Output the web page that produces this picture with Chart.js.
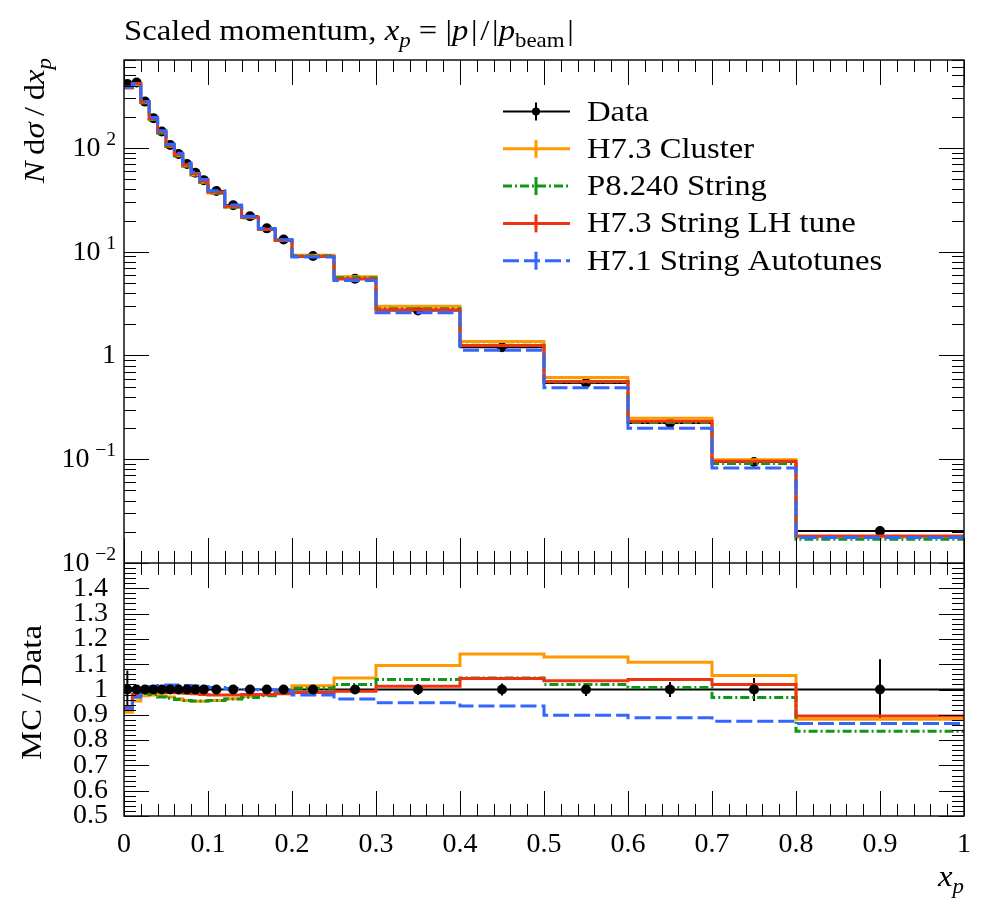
<!DOCTYPE html>
<html lang="en">
<head>
<meta charset="UTF-8">
<title>Scaled momentum x_p</title>
<script src="https://cdn.jsdelivr.net/npm/chart.js"></script>
<style>
  html, body { margin: 0; padding: 0; background: #fff; }
  #xpChart { display: block; width: 996px; height: 900px; }
</style>
</head>
<body>
<canvas id="xpChart" width="996" height="900"></canvas>
<script>
// histogram binning in x_p
const binEdges = [0, 0.01, 0.02, 0.03, 0.04, 0.05, 0.06, 0.07, 0.08, 0.09, 0.1,
                  0.12, 0.14, 0.16, 0.18, 0.2, 0.25, 0.3, 0.4, 0.5, 0.6, 0.7, 0.8, 1.0];

// measured data, N dsigma/dx_p
const dataX = [0.004, 0.015, 0.025, 0.035, 0.045, 0.055, 0.065, 0.075, 0.085, 0.095,
               0.11, 0.13, 0.15, 0.17, 0.19, 0.225, 0.275, 0.35, 0.45, 0.55, 0.65, 0.75, 0.9];
const dataY = [415, 428, 280, 194, 144, 107, 87.5, 70, 57.7, 49,
               38.5, 28.1, 22, 16.8, 13.1, 9.1, 5.5, 2.72, 1.2, 0.543, 0.224, 0.094, 0.0203];
const dataRelErr = [0.075, 0.01, 0.008, 0.008, 0.008, 0.008, 0.008, 0.008, 0.008, 0.008,
                    0.008, 0.008, 0.008, 0.008, 0.008, 0.01, 0.012, 0.022, 0.024, 0.026, 0.03, 0.045, 0.12];

// MC / Data ratios per bin
const clusterRatio = [0.91, 0.955, 0.975, 0.978, 0.975, 0.97, 0.963, 0.957, 0.954, 0.954,
                      0.957, 0.963, 0.972, 0.978, 0.985, 1.015, 1.045, 1.095, 1.14, 1.128, 1.108, 1.055, 0.882];
const p8StringRatio = [0.93, 0.97, 0.985, 0.98, 0.97, 0.965, 0.96, 0.957, 0.955, 0.955,
                       0.957, 0.962, 0.968, 0.975, 0.985, 1.005, 1.02, 1.04, 1.045, 1.02, 1.008, 0.968, 0.835];
const lhTuneRatio = [0.93, 0.98, 0.99, 0.992, 0.99, 0.988, 0.987, 0.985, 0.983, 0.98,
                     0.978, 0.978, 0.98, 0.98, 0.983, 0.988, 0.993, 1.013, 1.043, 1.035, 1.04, 1.02, 0.895];
const autotuneRatio = [0.925, 0.97, 1.005, 1.012, 1.016, 1.018, 1.018, 1.016, 1.014, 1.012,
                       1.008, 1.004, 1.0, 0.998, 0.995, 0.978, 0.962, 0.948, 0.935, 0.898, 0.888, 0.875, 0.866];

const seriesNames = ['Data', 'H7.3 Cluster', 'P8.240 String', 'H7.3 String LH tune', 'H7.1 String Autotunes'];

// axis ticks
const xTicks = [0, 0.1, 0.2, 0.3, 0.4, 0.5, 0.6, 0.7, 0.8, 0.9, 1];
const logTicks = [100, 10, 1, 0.1, 0.01];
const logTickExp = ['2', '1', null, '\u22121', '\u22122'];
const ratioTicks = [0.5, 0.6, 0.7, 0.8, 0.9, 1, 1.1, 1.2, 1.3, 1.4];

const FONT = '"Liberation Serif", "DejaVu Serif", serif';
const FS = 28;    // tick labels
const LFS = 30;   // titles and legend
const WIDE = 1.09; // Times is narrower than the original book face

// styles (order matches seriesNames[1..])
const mcColors = ['#FF9900', '#109618', '#EE3311', '#3366FF'];
const mcDash = [[], [9, 3, 2, 3], [], [16, 5]];
const mcRatios = [clusterRatio, p8StringRatio, lhTuneRatio, autotuneRatio];

function stepPoints(vals) {
  const pts = vals.map((v, i) => ({ x: binEdges[i], y: v }));
  pts.push({ x: binEdges[binEdges.length - 1], y: vals[vals.length - 1] });
  return pts;
}

function fmtTick(v) {
  const r = Math.round(v * 10) / 10;
  if (r === 0) return '0';
  if (r === 1) return '1';
  return r.toFixed(1);
}

const datasets = [];
// data points, main panel (drawn underneath the MC)
datasets.push({
  label: 'Data', yAxisID: 'y', order: 10,
  data: dataX.map((x, i) => ({ x: x, y: dataY[i] })),
  showLine: false, pointRadius: 5, pointBackgroundColor: '#000', pointBorderWidth: 0
});
// data points, ratio panel (on top)
datasets.push({
  label: 'Data ratio', yAxisID: 'yRatio', order: 0,
  data: dataX.map((x, i) => ({ x: x, y: dataY[i] / dataY[i] })),
  showLine: false, pointRadius: 5, pointBackgroundColor: '#000', pointBorderWidth: 0
});
mcRatios.forEach((ratio, k) => {
  const common = {
    showLine: true, stepped: 'before', pointRadius: 0, fill: false,
    borderColor: mcColors[k], borderWidth: 3, borderDash: mcDash[k],
    order: 4 - k
  };
  datasets.push(Object.assign({
    label: seriesNames[k + 1], yAxisID: 'y',
    data: stepPoints(ratio.map((r, i) => r * dataY[i]))
  }, common));
  datasets.push(Object.assign({
    label: seriesNames[k + 1] + ' ratio', yAxisID: 'yRatio',
    data: stepPoints(ratio)
  }, common));
});

function line(c, x0, y0, x1, y1) {
  c.beginPath(); c.moveTo(x0, y0); c.lineTo(x1, y1); c.stroke();
}

// text with italic / sub / superscript pieces: [text, style]
// style: r roman, i italic, rs roman sub, is italic sub, rp roman sup
function richWidth(c, parts, size, sx) {
  let w = 0;
  for (const [t, s] of parts) {
    const small = s.length > 1;
    c.font = (s[0] === 'i' ? 'italic ' : '') + (small ? size * 0.7 : size) + 'px ' + FONT;
    w += c.measureText(t).width;
  }
  return w * (sx || 1);
}
function drawRich(c, parts, x, y, size, sx) {
  c.save();
  c.translate(x, y);
  c.scale(sx || 1, 1);
  let cx = 0;
  for (const [t, s] of parts) {
    const small = s.length > 1;
    let dy = 0;
    if (s[1] === 's') dy = size * 0.22;
    if (s[1] === 'p') dy = -size * 0.4;
    c.font = (s[0] === 'i' ? 'italic ' : '') + (small ? size * 0.7 : size) + 'px ' + FONT;
    c.fillText(t, cx, dy);
    cx += c.measureText(t).width;
  }
  c.restore();
}

const decor = {
  id: 'decor',
  beforeDatasetsDraw(chart) {
    const c = chart.ctx, a = chart.chartArea;
    const xs = chart.scales.x, ys = chart.scales.y, rs = chart.scales.yRatio;
    c.save();
    c.beginPath(); c.rect(a.left, a.top, a.right - a.left, a.bottom - a.top); c.clip();
    c.strokeStyle = '#000'; c.lineWidth = 2;
    dataY.forEach((v, i) => {
      const x0 = xs.getPixelForValue(binEdges[i]);
      const x1 = xs.getPixelForValue(binEdges[i + 1]);
      const xc = xs.getPixelForValue(dataX[i]);
      let py = ys.getPixelForValue(v);
      line(c, x0, py, x1, py);
      line(c, xc, ys.getPixelForValue(v * (1 + dataRelErr[i])), xc, ys.getPixelForValue(v * (1 - dataRelErr[i])));
      py = rs.getPixelForValue(1);
      line(c, x0, py, x1, py);
      line(c, xc, rs.getPixelForValue(1 + dataRelErr[i]), xc, rs.getPixelForValue(1 - dataRelErr[i]));
    });
    c.restore();
  },
  afterDraw(chart) {
    const c = chart.ctx;
    const xs = chart.scales.x, ys = chart.scales.y, rs = chart.scales.yRatio;
    const L = xs.left, R = xs.right, T = ys.top, M = ys.bottom, B = rs.bottom;
    c.save();
    // ticks
    c.strokeStyle = '#000'; c.lineWidth = 1;
    for (let k = 0; k <= 50; k++) {
      const px = Math.round(xs.getPixelForValue(k / 50)) + 0.5;
      const len = k % 5 === 0 ? 25 : 12;
      line(c, px, T, px, T + len);
      line(c, px, M, px, M - len);
      line(c, px, M, px, M + len);
      line(c, px, B, px, B - len);
    }
    for (let e = -2; e <= 2; e++) {
      for (let m = 1; m <= 9; m++) {
        const v = m * Math.pow(10, e);
        if (v > ys.max) continue;
        const py = Math.round(ys.getPixelForValue(v)) + 0.5;
        const len = m === 1 ? 25 : 12;
        line(c, L, py, L + len, py);
        line(c, R, py, R - len, py);
      }
    }
    for (let k = 0; k <= 50; k++) {
      const v = 0.5 + k * 0.02;
      const py = Math.round(rs.getPixelForValue(v)) + 0.5;
      const len = k % 5 === 0 ? 25 : 12;
      line(c, L, py, L + len, py);
      line(c, R, py, R - len, py);
    }
    // frame
    c.strokeStyle = '#111'; c.lineWidth = 1.5;
    c.strokeRect(L, T, R - L, B - T);
    line(c, L, M, R, M);

    // log tick labels
    c.fillStyle = '#000';
    c.textBaseline = 'alphabetic';
    logTicks.forEach((v, i) => {
      const py = ys.getPixelForValue(v) + 8;
      const parts = logTickExp[i] ? [['10', 'r'], ['\u2009', 'r'], [logTickExp[i], 'rp']] : [['1', 'r']];
      const w = richWidth(c, parts, FS);
      drawRich(c, parts, L - 8 - w, py, FS);
    });

    // title
    drawRich(c, [['Scaled momentum, ', 'r'], ['x', 'i'], ['p', 'is'], [' = |', 'r'], ['p', 'i'],
                 ['\u200a|\u200a/\u200a|', 'r'], ['p', 'i'], ['beam', 'rs'], ['\u200a|', 'r']], L, 40, LFS, WIDE);

    // x axis label
    const xl = [['x', 'i'], ['p', 'is']];
    drawRich(c, xl, R - richWidth(c, xl, LFS, WIDE), 886, LFS, WIDE);

    // y axis labels (rotated)
    const yl = [['N', 'i'], ['\u2009d', 'r'], ['\u03c3', 'i'], ['\u2009/\u2009d', 'r'], ['x', 'i'], ['p', 'is']];
    const yw = richWidth(c, yl, LFS, WIDE);
    c.save();
    c.translate(44, T - 2 + yw);
    c.rotate(-Math.PI / 2);
    drawRich(c, yl, 0, 0, LFS, WIDE);
    c.restore();
    const rl = [['MC\u2009/\u2009Data', 'r']];
    const rw = richWidth(c, rl, LFS, WIDE);
    c.save();
    c.translate(41, (M + B) / 2 + 3 + rw / 2);
    c.rotate(-Math.PI / 2);
    drawRich(c, rl, 0, 0, LFS, WIDE);
    c.restore();

    // legend
    const lx0 = 503, lx1 = 570, lxc = 536, ltx = 587;
    seriesNames.forEach((name, i) => {
      const ly = 111.5 + i * 37.3;
      if (i === 0) {
        c.strokeStyle = '#000'; c.lineWidth = 2; c.setLineDash([]);
        line(c, lx0, ly, lx1, ly);
        line(c, lxc, ly - 9, lxc, ly + 9);
        c.fillStyle = '#000';
        c.beginPath(); c.arc(lxc, ly, 4, 0, Math.PI * 2); c.fill();
      } else {
        c.strokeStyle = mcColors[i - 1]; c.lineWidth = 3;
        c.setLineDash(mcDash[i - 1]);
        line(c, lx0, ly, lx1, ly);
        c.setLineDash([]);
        line(c, lxc, ly - 9, lxc, ly + 9);
      }
      c.fillStyle = '#000';
      drawRich(c, [[name, 'r']], ltx, ly + 9, LFS, WIDE);
    });
    c.restore();
  }
};

const ctx = document.getElementById('xpChart').getContext('2d');
const xpChart = new Chart(ctx, {
  type: 'scatter',
  data: { datasets: datasets },
  options: {
    responsive: false,
    animation: false,
    events: [],
    layout: { padding: { top: 60, right: 32, left: 0, bottom: 0 } },
    plugins: { legend: { display: false }, tooltip: { enabled: false }, title: { display: false } },
    scales: {
      x: {
        type: 'linear', min: 0, max: 1, position: 'bottom',
        grid: { display: false }, border: { display: false },
        afterBuildTicks: s => { s.ticks = xTicks.map(v => ({ value: v })); },
        ticks: {
          autoSkip: false, maxRotation: 0, padding: 4, color: '#000',
          font: { family: FONT, size: FS }, callback: v => fmtTick(v)
        },
        afterFit: s => { s.height = 84; }
      },
      y: {
        type: 'logarithmic', min: 0.01, max: 705, position: 'left',
        stack: 'panels', stackWeight: 503, weight: 2,
        grid: { display: false }, border: { display: false },
        ticks: { display: false },
        afterFit: s => { s.width = 124; }
      },
      yRatio: {
        type: 'linear', min: 0.5, max: 1.5, position: 'left', axis: 'y',
        stack: 'panels', stackWeight: 253, weight: 1,
        grid: { display: false }, border: { display: false },
        afterBuildTicks: s => { s.ticks = ratioTicks.map(v => ({ value: v })); },
        ticks: {
          autoSkip: false, padding: 8, color: '#000',
          font: { family: FONT, size: FS }, callback: v => fmtTick(v)
        },
        afterFit: s => { s.width = 124; }
      }
    }
  },
  plugins: [decor]
});
</script>
</body>
</html>
